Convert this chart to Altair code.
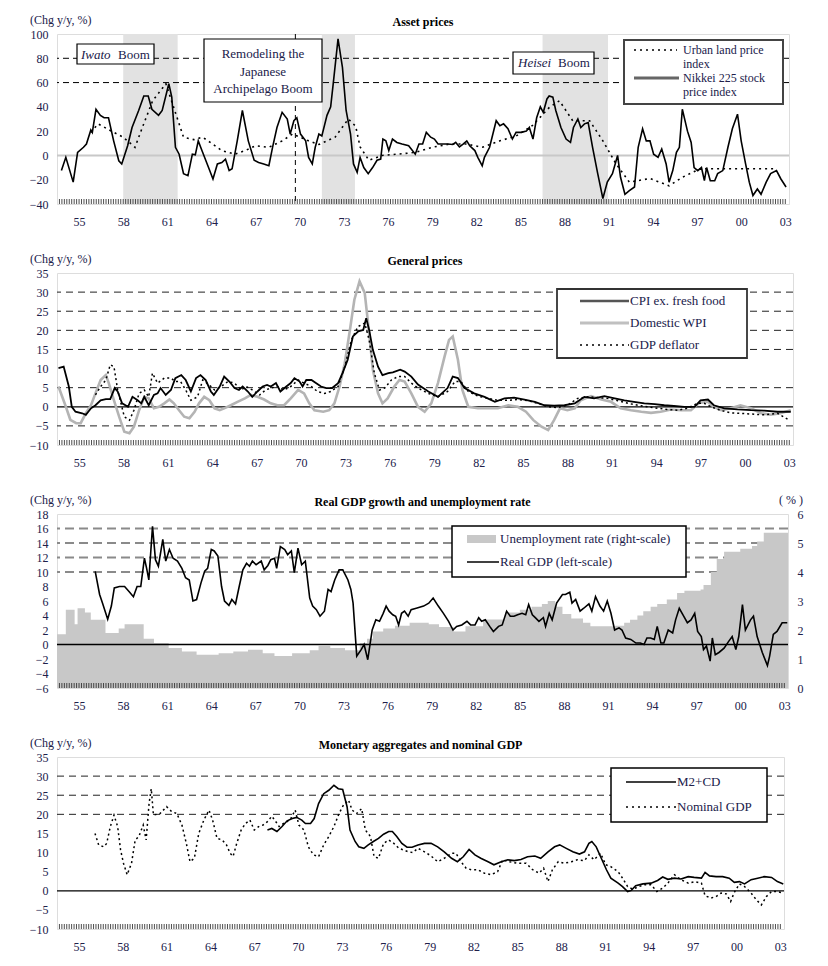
import altair as alt
import pandas as pd

FONT = "Liberation Serif"
TXT = "#20204a"

# ---------------- Panel 1: Asset prices ----------------
nikkei_t = [1954.3, 1954.6, 1955.1, 1955.4, 1955.8, 1956.0, 1956.3, 1956.4, 1956.65, 1956.95, 1957.2, 1957.5,
            1957.85, 1958.2, 1958.4, 1958.8, 1959.1, 1959.55, 1959.9, 1960.2, 1960.45, 1960.9, 1961.15, 1961.6,
            1961.8, 1962.05, 1962.3, 1962.6, 1962.9, 1963.2, 1963.4, 1963.6, 1963.85, 1964.3, 1964.6, 1964.9,
            1965.2, 1965.45, 1965.7, 1965.9, 1966.25, 1966.6, 1967.0, 1967.4, 1967.7, 1968.05, 1968.4, 1968.65,
            1968.95, 1969.3, 1969.65, 1969.85, 1970.1, 1970.3, 1970.55, 1970.9, 1971.1, 1971.35, 1971.55, 1971.8,
            1972.0, 1972.35, 1972.6, 1972.8, 1973.1, 1973.4, 1973.65, 1973.95, 1974.15, 1974.4, 1974.6, 1974.85,
            1975.15, 1975.45, 1975.75, 1976.0, 1976.15, 1976.35, 1976.55, 1976.8, 1977.1, 1977.45, 1977.9, 1978.35,
            1978.6, 1978.85, 1979.1, 1979.4, 1979.65, 1979.9, 1980.2, 1980.55, 1980.9, 1981.1, 1981.35, 1981.6,
            1981.85, 1982.05, 1982.4, 1982.6, 1982.9, 1983.05, 1983.4, 1983.85, 1984.1, 1984.35, 1984.65, 1984.95,
            1985.2, 1985.55, 1985.9, 1986.1, 1986.35, 1986.6, 1986.85, 1987.05, 1987.3, 1987.45, 1987.7, 1987.9,
            1988.25, 1988.6, 1988.9, 1989.1, 1989.4, 1989.6, 1989.85, 1990.1, 1990.4, 1990.75, 1991.1, 1991.4,
            1991.75, 1992.1, 1992.3, 1992.6, 1992.9, 1993.25, 1993.5, 1993.8, 1994.05, 1994.3, 1994.55, 1994.85,
            1995.1, 1995.4, 1995.6, 1995.85, 1996.1, 1996.3, 1996.5, 1996.85, 1997.1, 1997.3, 1997.55, 1997.8,
            1998.0, 1998.15, 1998.4, 1998.7, 1998.9, 1999.25, 1999.6, 1999.9, 2000.25, 2000.5, 2000.8, 2001.05,
            2001.3, 2001.6, 2001.85, 2002.2, 2002.5, 2002.9, 2003.2, 2003.55]
nikkei_v = [-12.5, -1.6, -22, 2.5, 6.7, 9.4, 21, 19, 38, 33, 31, 31,
            12, -4.4, -7, 8, 23, 37, 49, 49, 38, 33, 37, 59,
            48, 6.7, 1, -15, -16.7, 1, 0.5, 12, 4, -10, -19.4, -7,
            -5.8, -3, -12.5, -11, 12, 37, 12, -4, -5.8, -7, -8.5, 6.7,
            23, 35.5, 30, 17.6, 28.6, 31, 17.6, 12, -1.6, -7, 6.7, 17.6,
            16, 33, 40, 62, 96, 72.5, 37, 17.6, -7, -14, -1.6, -10,
            -15, -10, -4, -3, 13.5, 12, 4, 13.5, 10.7, 9.4, 8, 1,
            9.4, 9.4, 19, 15, 13.5, 9.4, 9.4, 9.4, 9, 10.7, 7, 9.4,
            12, 8, 4, -1.6, -8.5, -1.6, 6.7, 28.6, 24.5, 26, 22, 13.5,
            19, 19, 20, 23, 13.5, 31, 40, 35.5, 46.5, 49, 48, 37,
            23, 13.5, 10.7, 23, 30, 23, 26, 27, 6.7, -15, -35.5, -22,
            -15, 0, -18, -32, -29, -26, 6.7, 22, 12, 12, 1, -1.6,
            5.3, -7, -22, -12.5, 2.5, 6.7, 38, 20, 10.7, -10, -12.5, -10,
            -20.8, -10, -20.8, -20.8, -15, -12.5, 6.7, 22, 34, 12, -7, -22,
            -33, -27.6, -32, -22, -15, -12.5, -19.4, -26]

land_t = [1956.3, 1956.8, 1957.7, 1958.5, 1959.3, 1959.8, 1960.5, 1961.4, 1962.0, 1962.6, 1963.3, 1963.9,
          1964.5, 1965.2, 1966.1, 1966.8, 1967.5, 1968.4, 1969.3, 1970.0, 1971.1, 1971.8, 1972.9, 1973.8,
          1974.3, 1974.6, 1975.2, 1976.1, 1977.45, 1978.35, 1979.5, 1980.7, 1981.8, 1982.9, 1984.1, 1985.2,
          1986.3, 1987.5, 1988.15, 1989.05, 1990.2, 1991.1, 1992.0, 1992.9, 1994.3, 1995.6, 1996.5, 1997.7,
          1999.9, 2002.9]
land_v = [19, 26, 20, 15, 6.7, 23, 45, 59, 37, 15, 13, 15,
          10, 4, 1, 4, 8, 6.7, 12, 17.6, 12, 9, 15, 30,
          24, 7, -4, 0, 1.4, 2.5, 6.7, 9.4, 9.4, 6.7, 12, 16,
          24.5, 40, 45, 28.6, 28.6, 12, -7, -22, -19, -25, -18, -11,
          -11, -11]

boom_start = [1958.5, 1972.0, 1987.0]
boom_end = [1962.2, 1974.25, 1991.45]
boom_line_t = [1970.2]

# ---------------- Panel 2: General prices ----------------
cpi_t = [1954.1, 1954.45, 1954.8, 1955.0, 1955.25, 1955.7, 1955.95, 1956.3, 1956.6, 1956.95, 1957.3, 1957.6,
         1957.9, 1958.1, 1958.4, 1958.8, 1959.1, 1959.45, 1959.7, 1959.9, 1960.2, 1960.55, 1960.8, 1961.0,
         1961.35, 1961.7, 1962.0, 1962.4, 1962.7, 1963.05, 1963.4, 1963.7, 1964.05, 1964.4, 1964.6, 1965.0,
         1965.3, 1965.65, 1966.0, 1966.3, 1966.55, 1966.9, 1967.2, 1967.55, 1967.9, 1968.2, 1968.45, 1968.8,
         1969.1, 1969.5, 1969.8, 1970.05, 1970.4, 1970.6, 1970.85, 1971.2, 1971.5, 1971.85, 1972.2, 1972.6,
         1973.0, 1973.3, 1973.65, 1974.0, 1974.35, 1974.7, 1974.9, 1975.1, 1975.35, 1975.7, 1976.0, 1976.4,
         1976.7, 1977.2, 1977.5, 1977.95, 1978.4, 1979.1, 1979.75, 1980.4, 1980.75, 1981.1, 1981.55, 1982.2,
         1982.9, 1983.6, 1984.25, 1984.9, 1985.6, 1986.3, 1986.95, 1987.6, 1988.3, 1989.0, 1989.65, 1990.3,
         1991.0, 1991.7, 1992.35, 1993.0, 1993.7, 1994.4, 1995.05, 1995.7, 1996.4, 1997.1, 1997.5, 1998.0,
         1998.4, 1999.1, 2000.0, 2000.9, 2001.8, 2002.7, 2003.6]
cpi_v = [10.1, 10.5, 5.3, 0, -1.3, -1.7, -2.1, -0.4, 0.4, 1.7, 2, 2,
         4.9, 4, 0.9, 0, 2.6, 1.7, 0.9, 2.6, 0.4, 3.1, 3.5, 4.9,
         3.1, 4.4, 7.5, 8.3, 7, 4, 7.5, 8.3, 7, 4, 3.1, 5.3,
         7.9, 6.6, 4.9, 4.4, 5.3, 4, 2.6, 4, 5.3, 5.7, 5.3, 6.2,
         4, 5.3, 6.2, 7.5, 6.6, 5.3, 7, 7, 6.2, 5.3, 4.9, 4.9,
         6.2, 8.8, 12.3, 18.4, 19.7, 20.1, 23.2, 20.1, 14.9, 10.5, 8.3, 8.8,
         9, 9.7, 9.2, 7.9, 5.8, 4, 2.6, 4.9, 7.9, 7.5, 4.9, 3.5,
         2.6, 1.3, 2.2, 2.4, 1.9, 1.3, 0.4, 0.3, 0.4, 0.9, 2.6, 2.2,
         2.8, 2.2, 1.7, 1.3, 0.9, 0.7, 0.4, 0.2, 0, 0, 1.7, 1.9,
         0.4, -0.4, -0.7, -0.9, -1, -1.3, -1.3]

wpi_t = [1954.1, 1954.6, 1954.9, 1955.3, 1955.6, 1955.95, 1956.3, 1956.6, 1956.95, 1957.3, 1957.5, 1957.85,
         1958.2, 1958.55, 1958.9, 1959.2, 1959.55, 1959.9, 1960.2, 1960.55, 1960.9, 1961.25, 1961.6, 1961.9,
         1962.25, 1962.6, 1962.95, 1963.3, 1963.6, 1963.95, 1964.3, 1964.65, 1965.0, 1965.3, 1965.75, 1966.2,
         1966.7, 1967.1, 1967.55, 1968.0, 1968.45, 1968.9, 1969.35, 1969.8, 1970.3, 1970.7, 1971.05, 1971.4,
         1972.0, 1972.4, 1972.75, 1973.1, 1973.45, 1973.8, 1974.1, 1974.45, 1974.8, 1975.1, 1975.35, 1975.7,
         1976.0, 1976.35, 1976.8, 1977.15, 1977.5, 1977.95, 1978.4, 1978.85, 1979.3, 1979.75, 1980.2, 1980.5,
         1980.75, 1981.1, 1981.4, 1981.8, 1982.45, 1983.1, 1983.8, 1984.5, 1985.15, 1985.7, 1986.2, 1986.75,
         1987.2, 1987.6, 1988.0, 1988.5, 1989.0, 1989.4, 1990.1, 1990.8, 1991.45, 1992.1, 1992.8, 1993.5,
         1994.15, 1994.8, 1995.5, 1996.2, 1996.85, 1997.4, 1998.0, 1998.4, 1998.9, 1999.55, 2000.2, 2000.9,
         2001.6, 2002.25, 2002.9, 2003.6]
wpi_v = [5.3, 0, -3.4, -4.3, -4.3, -1.7, 0.4, 3.5, 7, 8.3, 6.2, 1.7,
         -2.6, -6.5, -6.9, -5.2, -0.9, 2.6, 2.2, -0.4, 0, 0.9, 1.9, 0.9,
         -0.9, -2.6, -3, -1.3, 0.9, 2.6, 1.7, -0.4, -0.9, -0.4, 0.4, 1.3,
         2.2, 3.1, 2.6, 1.9, 0.9, 0.4, 0.4, 2.2, 4.4, 3.5, 0.9, -0.9,
         -1.3, -0.9, 0.9, 5.3, 11.4, 20.1, 28, 32.8, 29.8, 19.3, 9.7, 3.5,
         0.9, 2.2, 5.3, 7, 6.6, 3.5, 0, -1.3, 0.9, 6.2, 13.2, 17.5,
         18.4, 12.3, 4.4, 0, -0.4, -0.4, -0.4, 0.4, 0, -1.3, -3.5, -5.2,
         -6.1, -3.5, -0.4, -0.9, -0.4, 1.7, 2.8, 1.9, 1.3, -0.4, -0.9, -1.3,
         -1.6, -1.3, -0.7, -0.9, -0.9, 1, 1.3, 0, -0.9, -0.4, 0.4, -0.4,
         -1.7, -2.1, -1.7, -0.9]

defl_t = [1956.6, 1956.95, 1957.3, 1957.6, 1957.85, 1958.1, 1958.55, 1958.9, 1959.2, 1959.55, 1959.9, 1960.2,
          1960.45, 1960.8, 1961.25, 1961.7, 1962.0, 1962.35, 1962.7, 1963.05, 1963.5, 1963.85, 1964.3, 1964.65,
          1965.1, 1965.55, 1966.0, 1966.45, 1966.8, 1967.2, 1967.7, 1968.1, 1968.45, 1968.9, 1969.35, 1969.8,
          1970.3, 1970.7, 1971.2, 1971.6, 1972.1, 1972.5, 1973.0, 1973.45, 1973.9, 1974.35, 1974.8, 1975.1,
          1975.45, 1975.8, 1976.15, 1976.6, 1977.05, 1977.5, 1977.95, 1978.4, 1979.1, 1979.75, 1980.4, 1980.9,
          1981.3, 1981.8, 1982.45, 1983.1, 1983.8, 1984.5, 1985.15, 1985.85, 1986.5, 1987.2, 1987.85, 1988.5,
          1989.2, 1989.9, 1990.55, 1991.2, 1991.9, 1992.6, 1993.25, 1993.9, 1994.6, 1995.3, 1995.95, 1996.6,
          1997.3, 1997.75, 1998.2, 1998.9, 1999.55, 2000.2, 2000.9, 2001.8, 2002.7, 2003.5]
defl_v = [3.1, 5.3, 7, 11, 10.5, 4.4, -2.6, -3.5, -0.9, 3.5, 4.4, 2.6,
          8.8, 6.2, 7.5, 7.5, 6.6, 6.6, 4.4, 1.7, 2.6, 7, 5.7, 4.4,
          5.3, 6.6, 6.2, 4.4, 5.3, 4.4, 3.1, 4.4, 4.9, 5.3, 4.4, 5.3,
          7, 6.2, 5.3, 4, 3.5, 4, 5.3, 10.5, 17.5, 21, 21.9, 17.5,
          8.8, 4.4, 4.9, 7, 7.9, 7.9, 6.2, 4.9, 3.5, 2.6, 4, 6.6,
          6.6, 4, 2.8, 2.2, 1.7, 1.7, 1.9, 1.6, 0.9, 0, -0.2, 0.4,
          2.2, 2.6, 2.4, 2.2, 1.6, 0.9, 0.4, 0, -0.4, -0.7, -0.9, -0.4,
          0.9, 0.9, 0, -1, -1.6, -1.7, -1.9, -2.1, -1.7, -3.5]

# ---------------- Panel 3: Real GDP growth and unemployment ----------------
gdp_t = [1956.6, 1956.9, 1957.1, 1957.45, 1957.7, 1957.9, 1958.25, 1958.6, 1958.9, 1959.2, 1959.45, 1959.7,
         1959.95, 1960.1, 1960.25, 1960.5, 1960.7, 1960.9, 1961.2, 1961.4, 1961.65, 1961.9, 1962.2, 1962.5,
         1962.75, 1963.0, 1963.25, 1963.5, 1963.8, 1964.05, 1964.25, 1964.5, 1964.7, 1964.95, 1965.2, 1965.4,
         1965.7, 1965.9, 1966.15, 1966.4, 1966.65, 1966.9, 1967.1, 1967.3, 1967.55, 1967.9, 1968.1, 1968.35,
         1968.55, 1968.8, 1968.95, 1969.2, 1969.5, 1969.7, 1969.95, 1970.15, 1970.4, 1970.65, 1970.9, 1971.2,
         1971.4, 1971.65, 1971.9, 1972.2, 1972.45, 1972.65, 1972.9, 1973.2, 1973.45, 1973.8, 1974.0, 1974.15,
         1974.4, 1974.7, 1974.9, 1975.15, 1975.45, 1975.7, 1975.95, 1976.2, 1976.4, 1976.6, 1976.85, 1977.05,
         1977.25, 1977.45, 1977.65, 1977.9, 1978.1, 1978.45, 1978.95, 1979.3, 1979.6, 1979.95, 1980.3, 1980.65,
         1980.95, 1981.2, 1981.55, 1981.9, 1982.15, 1982.45, 1982.7, 1982.9, 1983.15, 1983.45, 1983.7, 1984.05,
         1984.3, 1984.6, 1984.85, 1985.1, 1985.35, 1985.65, 1985.9, 1986.1, 1986.35, 1986.55, 1986.8, 1987.1,
         1987.25, 1987.5, 1987.7, 1988.0, 1988.4, 1988.6, 1988.9, 1989.05, 1989.3, 1989.6, 1989.85, 1990.2,
         1990.4, 1990.65, 1990.95, 1991.2, 1991.45, 1991.7, 1991.95, 1992.25, 1992.45, 1992.7, 1993.05, 1993.4,
         1993.7, 1993.95, 1994.15, 1994.4, 1994.65, 1994.85, 1995.1, 1995.3, 1995.6, 1995.9, 1996.1, 1996.35,
         1996.65, 1996.9, 1997.15, 1997.4, 1997.6, 1997.85, 1998.0, 1998.2, 1998.45, 1998.6, 1998.8, 1999.05,
         1999.4, 1999.7, 1999.95, 2000.2, 2000.4, 2000.65, 2000.85, 2001.2, 2001.4, 2001.65, 2002.0, 2002.35,
         2002.5, 2002.75, 2003.0, 2003.35, 2003.7]
gdp_v = [10.1, 6.9, 5.7, 3.5, 5.3, 7.8, 8, 8, 7.3, 6.6, 8, 8,
         11.9, 10.5, 8.9, 16.3, 11.7, 10.8, 14.5, 11.5, 13.1, 11.9, 11.5, 10.5,
         9.2, 8.9, 6, 6.2, 8.5, 10.1, 10.5, 13.1, 12.9, 12.2, 8, 6,
         5.4, 6.2, 5.6, 8, 10.3, 11.2, 10.8, 11.5, 11, 11.5, 10.3, 10.9,
         11.7, 11.9, 10.5, 13.5, 13.1, 12.4, 12.9, 9.9, 13.3, 11, 11.5, 6.4,
         5.3, 4.8, 3.9, 4.6, 7.6, 7.3, 8.9, 10.3, 10.3, 8.9, 7.6, 5.7,
         -1.6, -0.7, 0, -2.1, 2, 3.4, 3.2, 4.3, 5.3, 4.6, 4.1, 3.9,
         2.7, 4.3, 4.6, 3.9, 4.8, 5, 5.3, 5.7, 6.4, 5.3, 4.3, 3.2,
         2, 2.5, 2.7, 3.2, 2.7, 2.7, 3.7, 3.2, 3.4, 2.5, 1.8, 2.5,
         2.7, 4.6, 3.9, 3.9, 4.1, 4.3, 4.1, 5.5, 4.1, 3.7, 3.2, 3.7,
         2.5, 4.3, 3.4, 5.7, 6.9, 6.9, 7.2, 5.7, 6.2, 4.6, 5, 5.6,
         4.6, 6.6, 5.3, 4.6, 6, 4.3, 2, 2.3, 2, 0.9, 0.7, 0.2,
         0.2, 0, 0.9, 0.9, 0.7, 2.5, 0.2, 0.2, 2, 1.6, 3.4, 5,
         3.9, 3, 3.4, 4.3, 1.8, 1.1, -0.7, -0.2, -2.3, 0.9, -1.4, -1.1,
         -0.5, 0.4, 1.1, -0.7, 1.1, 5.5, 2, 3.4, 3.9, 1.1, -1.1, -2.9,
         -1.6, 1.4, 1.8, 3, 3]

unemp_t = [1954.0, 1954.6, 1955.2, 1955.4, 1955.9, 1956.3, 1957.3, 1958.2, 1958.6, 1959.9, 1960.6, 1961.6,
           1962.5, 1963.5, 1965.0, 1966.0, 1967.0, 1968.0, 1968.8, 1970.0, 1971.2, 1971.8, 1972.6, 1973.6,
           1974.6, 1975.1, 1975.5, 1976.2, 1977.0, 1978.0, 1979.3, 1980.0, 1981.0, 1981.8, 1983.0, 1984.5,
           1985.5, 1986.3, 1987.0, 1987.4, 1987.9, 1988.4, 1989.0, 1989.8, 1990.3, 1992.0, 1992.6, 1993.0,
           1993.5, 1993.9, 1994.4, 1994.85, 1995.5, 1996.2, 1996.7, 1997.8, 1998.0, 1998.5, 1998.9, 1999.4,
           2000.5, 2001.3, 2001.65, 2002.1, 2003.75]
unemp_v = [1.85, 2.7, 2.2, 2.75, 2.6, 2.35, 1.9, 2.05, 2.2, 1.7, 1.55, 1.38,
           1.26, 1.15, 1.2, 1.26, 1.32, 1.2, 1.1, 1.2, 1.3, 1.45, 1.38, 1.3,
           1.55, 1.7, 1.95, 2.05, 2.15, 2.25, 2.2, 2.1, 1.95, 2.13, 2.36, 2.6,
           2.7, 2.8, 2.9, 3.0, 2.8, 2.55, 2.4, 2.25, 2.13, 2.15, 2.25, 2.35,
           2.5, 2.65, 2.8, 2.9, 3.05, 3.28, 3.35, 3.4, 3.55, 4.0, 4.45, 4.7,
           4.8, 4.9, 5.05, 5.35, 5.35]

# ---------------- Panel 4: Monetary aggregates and nominal GDP ----------------
m2_t = [1968.4, 1968.7, 1969.05, 1969.4, 1969.75, 1970.1, 1970.4, 1970.75, 1971.0, 1971.35, 1971.6, 1971.9,
        1972.25, 1972.6, 1972.95, 1973.25, 1973.55, 1973.85, 1974.05, 1974.4, 1974.65, 1975.0, 1975.3, 1975.65,
        1976.0, 1976.35, 1976.7, 1976.95, 1977.25, 1977.6, 1977.95, 1978.3, 1978.7, 1979.15, 1979.6, 1980.05,
        1980.5, 1981.0, 1981.4, 1981.8, 1982.2, 1982.6, 1983.0, 1983.5, 1983.9, 1984.4, 1984.85, 1985.3,
        1985.75, 1986.2, 1986.7, 1987.1, 1987.6, 1988.05, 1988.4, 1988.85, 1989.3, 1989.75, 1990.1, 1990.4,
        1990.6, 1990.9, 1991.2, 1991.6, 1991.9, 1992.4, 1992.7, 1993.05, 1993.3, 1993.6, 1994.1, 1994.65,
        1995.1, 1995.45, 1995.8, 1996.25, 1996.7, 1997.2, 1997.6, 1998.1, 1998.35, 1998.65, 1999.1, 1999.55,
        2000.0, 2000.35, 2000.7, 2001.05, 2001.5, 2001.95, 2002.4, 2002.9, 2003.3, 2003.7]
m2_v = [15.9, 16.3, 15.5, 16.8, 18.3, 18.9, 19.2, 18.5, 17.6, 17.6, 18.9, 22.8,
        25.4, 26.3, 27.6, 26.7, 26.5, 22, 15.9, 12.9, 11.5, 11.1, 12, 12.9,
        13.7, 14.8, 15.5, 15.5, 14.2, 12.4, 11.4, 11.4, 12, 12.4, 12.4, 11.5,
        10.2, 8.5, 7.6, 8.9, 10.8, 9.4, 8.5, 7.6, 6.8, 7.6, 8.1, 7.9,
        8.2, 8.9, 9.1, 8.5, 10.2, 11.5, 12, 11.1, 10.2, 9.6, 10.2, 12.4,
        12.9, 11.5, 8.9, 5.5, 3.3, 2, 1.1, -0.2, 0.1, 1.3, 1.8, 2,
        2.7, 3.6, 3.0, 3.3, 3.1, 3.7, 3.5, 3.3, 4.8, 3.9, 3.7, 3.7,
        3.3, 2.2, 2.4, 1.8, 2.9, 3.3, 3.7, 3.5, 2.4, 1.8]

ngdp_t = [1956.6, 1956.85, 1957.2, 1957.4, 1957.65, 1957.9, 1958.15, 1958.35, 1958.55, 1958.8, 1959.1, 1959.35,
          1959.6, 1959.9, 1960.1, 1960.3, 1960.45, 1960.6, 1961.05, 1961.5, 1961.85, 1962.2, 1962.55, 1962.85,
          1963.1, 1963.4, 1963.7, 1964.05, 1964.4, 1964.65, 1964.95, 1965.3, 1965.6, 1965.85, 1966.05, 1966.3,
          1966.6, 1966.9, 1967.2, 1967.5, 1967.8, 1968.1, 1968.4, 1968.7, 1968.9, 1969.2, 1969.5, 1969.75,
          1970.0, 1970.3, 1970.55, 1970.9, 1971.2, 1971.55, 1971.9, 1972.25, 1972.6, 1972.95, 1973.3, 1973.6,
          1973.95, 1974.2, 1974.5, 1974.85, 1975.1, 1975.45, 1975.7, 1976.0, 1976.35, 1976.7, 1977.05, 1977.4,
          1977.7, 1978.05, 1978.35, 1978.7, 1979.15, 1979.6, 1980.05, 1980.5, 1981.0, 1981.3, 1981.65, 1982.0,
          1982.35, 1982.8, 1983.25, 1983.7, 1984.15, 1984.5, 1984.95, 1985.5, 1986.1, 1986.55, 1987.0, 1987.3,
          1987.6, 1987.9, 1988.3, 1988.7, 1989.2, 1989.6, 1990.1, 1990.4, 1990.75, 1991.2, 1991.55, 1991.9,
          1992.4, 1992.7, 1993.05, 1993.4, 1993.75, 1994.2, 1994.65, 1995.05, 1995.45, 1995.8, 1996.25, 1996.7,
          1997.2, 1997.65, 1998.1, 1998.35, 1998.75, 1999.1, 1999.45, 1999.8, 2000.1, 2000.35, 2000.7, 2001.05,
          2001.5, 2001.85, 2002.2, 2002.55, 2002.9, 2003.25, 2003.7]
ngdp_v = [15, 12, 11.5, 12.4, 16.8, 19.8, 16.8, 10.7, 7.2, 4.2, 7.2, 13.3,
          14.2, 17.2, 13.3, 22.8, 26.7, 19.8, 20.2, 22, 20.7, 20.2, 17.2, 12.4,
          7.6, 8.5, 15, 18.5, 21.1, 18.5, 13.7, 13.3, 12, 9.8, 9, 12.4,
          15.9, 17.6, 18.5, 15.9, 16.8, 17.2, 18.1, 19.5, 18.5, 16.8, 17.6, 18.1,
          18.9, 21.1, 17.2, 15.9, 11.5, 9.4, 8.9, 12, 14.2, 16.8, 20.2, 22.4,
          23.7, 21.1, 20.2, 21.5, 15.9, 14.2, 8.9, 8.5, 12.4, 13.3, 12.4, 11.1,
          10.7, 10.2, 10, 11.1, 10.2, 9.1, 7.6, 8.5, 9.8, 9.8, 7.6, 5.9,
          5.5, 5.5, 4.6, 4.2, 5, 8.1, 7.6, 7.2, 7.2, 5.5, 4.6, 5.9,
          2.4, 5.5, 7.6, 7.2, 7.6, 8.1, 7.9, 9.4, 8.1, 9.8, 6.8, 6.3,
          5, 3.3, 1.1, 0.4, 1, 1.6, 1.6, -0.2, 0.7, 2, 4.2, 2.9,
          2, 2.4, 2, -1.3, -1.9, -1.5, -0.6, -0.8, -2.8, -0.4, 1.8, 1.1,
          -0.6, -2.3, -3.7, -1.5, -0.2, -0.2, -0.6]

# ---------------- axis labels / ticks ----------------
year_labels = [1955.5 + 3 * i for i in range(17)]
minor_ticks = [1954 + i / 6 for i in range(1, 298)]

one = pd.DataFrame({"a": [0]})
XDOM = [1954.0, 2003.75]

xaxis = alt.Axis(values=year_labels,
                 labelExpr="pad(toString(floor(datum.value) % 100), 2, '0', 'left')",
                 ticks=False, domain=False, grid=False, labelFont=FONT, labelFontSize=12,
                 labelColor=TXT, labelPadding=12, labelFlush=False, labelOverlap=False, title=None)
xscale = alt.Scale(domain=XDOM, nice=False, zero=False)


def X(field):
    return alt.X(f"{field}:Q", scale=xscale, axis=xaxis, title=None)


def yaxis(vals, orient="left"):
    return alt.Axis(values=vals, ticks=False, domain=False, grid=False, labelFont=FONT,
                    labelFontSize=12, labelColor=TXT, labelPadding=9, labelOverlap=False,
                    labelFlush=False, title=None, orient=orient)


def series(t, v):
    return pd.DataFrame({"t": t, "v": v})


def text(x, y, s, size=13, align="left", weight="normal", style="normal", color=TXT):
    return alt.Chart(one).mark_text(text=s, font=FONT, fontSize=size, align=align, baseline="middle",
                                    fontWeight=weight, fontStyle=style, color=color).encode(
        x=alt.value(x), y=alt.value(y))


def box(x1, y1, x2, y2, stroke="black", sw=1.2):
    return alt.Chart(one).mark_rect(fill="white", stroke=stroke, strokeWidth=sw).encode(
        x=alt.value(x1), x2=alt.value(x2), y=alt.value(y1), y2=alt.value(y2))


def sample(x1, x2, y, color="black", sw=1.5, dash=None):
    kw = dict(color=color, strokeWidth=sw)
    if dash:
        kw["strokeDash"] = dash
    return alt.Chart(one).mark_rule(**kw).encode(x=alt.value(x1), x2=alt.value(x2), y=alt.value(y))


def ticks(H):
    return alt.Chart(pd.DataFrame({"q": minor_ticks})).mark_rule(color="#222", strokeWidth=0.8).encode(
        x=X("q"), y=alt.value(H), y2=alt.value(H - 5))


def hrules(vals, Y, dash, color="black", sw=1.0):
    kw = dict(color=color, strokeWidth=sw)
    if dash:
        kw["strokeDash"] = dash
    return alt.Chart(pd.DataFrame({"v": vals})).mark_rule(**kw).encode(y=Y("v"))


def headers(W, title, right=None):
    layers = [text(W / 2, -12, title, size=12, align="center", weight="bold", color="black"),
              text(-27, -14, "(Chg y/y, %)", size=12)]
    if right:
        layers.append(text(W + 3, -14, right, size=12, align="center"))
    return layers


# ---------------- Panel 1 ----------------
W1, H1 = 732, 170
y1s = alt.Scale(domain=[-40, 100], nice=False, zero=False)
def Y1(f):
    return alt.Y(f"{f}:Q", scale=y1s, axis=yaxis(list(range(-40, 101, 20))), title=None)

p1 = alt.layer(
    alt.Chart(pd.DataFrame({"s": boom_start, "e": boom_end})).mark_rect(fill="#e2e2e2").encode(
        x=X("s"), x2="e:Q", y=alt.value(0), y2=alt.value(H1)),
    hrules([60, 80], Y1, [6, 4]),
    hrules([0], Y1, None, color="#c8c8c8", sw=2),
    alt.Chart(pd.DataFrame({"t": boom_line_t})).mark_rule(color="black", strokeDash=[5, 4], strokeWidth=1).encode(x=X("t")),
    alt.Chart(series(land_t, land_v)).mark_line(color="black", strokeWidth=1.6, strokeDash=[2, 4]).encode(x=X("t"), y=Y1("v")),
    alt.Chart(series(nikkei_t, nikkei_v)).mark_line(color="black", strokeWidth=1.6).encode(x=X("t"), y=Y1("v")),
    ticks(H1),
    box(20, 10, 97, 30),
    text(24, 21, "Iwato", style="italic"), text(61, 21, "Boom"),
    box(147, 5, 265, 68),
    text(206, 20, "Remodeling the", align="center"),
    text(206, 38, "Japanese", align="center"),
    text(206, 55, "Archipelago Boom", align="center"),
    box(456, 18, 537, 40),
    text(461, 29, "Heisei", style="italic"), text(501, 29, "Boom"),
    box(567, 6, 726, 70, stroke="#444", sw=2),
    sample(577, 620, 16, dash=[2, 4], sw=1.5),
    text(626, 16, "Urban land price", size=12), text(626, 30, "index", size=12),
    sample(577, 622, 44, color="#666", sw=3),
    text(626, 44, "Nikkei 225 stock", size=12), text(626, 58, "price index", size=12),
    *headers(W1, "Asset prices"),
).properties(width=W1, height=H1)

# ---------------- Panel 2 ----------------
W2, H2 = 736, 172
y2s = alt.Scale(domain=[-10, 35], nice=False, zero=False)
def Y2(f):
    return alt.Y(f"{f}:Q", scale=y2s, axis=yaxis(list(range(-10, 36, 5))), title=None)

p2 = alt.layer(
    hrules([-5, 5, 15, 20, 25, 30], Y2, [7, 5], color="#222"),
    hrules([0], Y2, None, sw=1.2),
    alt.Chart(series(wpi_t, wpi_v)).mark_line(color="#b4b4b4", strokeWidth=2.6).encode(x=X("t"), y=Y2("v")),
    alt.Chart(series(defl_t, defl_v)).mark_line(color="black", strokeWidth=1.5, strokeDash=[2, 3]).encode(x=X("t"), y=Y2("v")),
    alt.Chart(series(cpi_t, cpi_v)).mark_line(color="black", strokeWidth=1.8).encode(x=X("t"), y=Y2("v")),
    ticks(H2),
    box(500, 16, 690, 85, stroke="#333", sw=1.8),
    sample(523, 572, 28, color="#555", sw=2.5),
    text(573, 28, "CPI ex. fresh food"),
    sample(523, 572, 50, color="#c0c0c0", sw=3),
    text(573, 50, "Domestic WPI"),
    sample(523, 572, 72, dash=[2, 4], sw=1.5),
    text(573, 72, "GDP deflator"),
    *headers(W2, "General prices"),
).properties(width=W2, height=H2)

# ---------------- Panel 3 ----------------
W3, H3 = 731, 174
y3s = alt.Scale(domain=[-6, 18], nice=False, zero=False)
def Y3(f, axis=True):
    return alt.Y(f"{f}:Q", scale=y3s, axis=yaxis(list(range(-6, 19, 2))) if axis else None, title=None)

grid3 = hrules([10, 12, 14, 16], lambda f: Y3(f, axis=False), [9, 5], color="#8a8a8a", sw=2)
area3 = alt.Chart(series(unemp_t, unemp_v)).mark_area(interpolate="step-after", color="#c8c8c8").encode(
    x=X("t"),
    y=alt.Y("v:Q", scale=alt.Scale(domain=[0, 6], nice=False, zero=False),
            axis=yaxis(list(range(0, 7)), orient="right"), title=None))
top3 = alt.layer(
    hrules([0], Y3, None, sw=1.5),
    alt.Chart(series(gdp_t, gdp_v)).mark_line(color="black", strokeWidth=1.6).encode(x=X("t"), y=Y3("v")),
    ticks(H3),
    box(395, 12, 629, 63, stroke="black", sw=1.5),
    alt.Chart(one).mark_rect(fill="#c8c8c8").encode(x=alt.value(410), x2=alt.value(439), y=alt.value(21), y2=alt.value(29)),
    text(443, 25, "Unemployment rate (right-scale)"),
    sample(410, 442, 48, sw=1.5),
    text(443, 48, "Real GDP (left-scale)"),
    *headers(W3, "Real GDP growth and unemployment rate", right="( % )"),
)
p3 = alt.layer(grid3, area3, top3).resolve_scale(y="independent").properties(width=W3, height=H3)

# ---------------- Panel 4 ----------------
W4, H4 = 727, 172
def Y4(f):
    return alt.Y(f"{f}:Q", scale=y2s, axis=yaxis(list(range(-10, 36, 5))), title=None)

p4 = alt.layer(
    hrules([20, 25, 30], Y4, [7, 5], color="#222"),
    hrules([0], Y4, None, sw=1.3),
    alt.Chart(series(ngdp_t, ngdp_v)).mark_line(color="black", strokeWidth=1.5, strokeDash=[2, 3]).encode(x=X("t"), y=Y4("v")),
    alt.Chart(series(m2_t, m2_v)).mark_line(color="black", strokeWidth=1.6).encode(x=X("t"), y=Y4("v")),
    ticks(H4),
    box(554, 11, 710, 65, stroke="black", sw=1.5),
    sample(569, 619, 25, sw=1.5),
    text(620, 25, "M2+CD"),
    sample(569, 619, 50, dash=[2, 4], sw=1.5),
    text(620, 50, "Nominal GDP"),
    *headers(W4, "Monetary aggregates and nominal GDP"),
).properties(width=W4, height=H4)

chart = alt.vconcat(p1, p2, p3, p4, spacing=69, bounds="flush").properties(
    padding={"left": 20, "top": 5, "right": 5, "bottom": 5}
).configure_view(stroke="black", strokeWidth=1.3).configure(background="white")

chart.save("out.html", embed_options={"renderer": "svg", "actions": False})
